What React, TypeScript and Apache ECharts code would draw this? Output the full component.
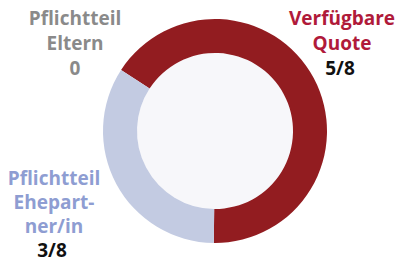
import React, { useEffect, useRef } from "react";
import * as echarts from "echarts";

const categories = ["Verfügbare Quote", "Pflichtteil Ehepartner/in", "Pflichtteil Eltern"];
const shares = [66, 34, 0];
const fractions = ["5/8", "3/8", "0"];
const sliceColors = ["#921c20", "#c3cbe2", "#8a8a8a"];

export default function App() {
  const ref = useRef<HTMLDivElement>(null);
  useEffect(() => {
    const chart = echarts.init(ref.current!, null, { renderer: "svg" });
    const font = "'Open Sans', 'Noto Sans', sans-serif";
    const txt = (x: number, y: number, text: string, fill: string) => ({
      type: "text",
      x,
      y,
      silent: true,
      style: {
        text,
        fill,
        fontFamily: font,
        fontWeight: "bold",
        fontSize: 19,
        textAlign: "center",
        textVerticalAlign: "middle",
      },
    });
    const gray = "#8a8a8a";
    const red = "#b01a3a";
    const blue = "#8e9dd2";
    const dark = "#111";
    chart.setOption({
      animation: false,
      series: [
        {
          type: "pie",
          silent: true,
          center: [215, 131],
          radius: [0, 78],
          label: { show: false },
          labelLine: { show: false },
          data: [{ value: 1, itemStyle: { color: "#f7f7fa" } }],
        },
        {
          type: "pie",
          silent: true,
          center: [215, 131],
          radius: [78, 112],
          startAngle: 147,
          clockwise: true,
          label: { show: false },
          labelLine: { show: false },
          data: categories.map((c, i) => ({ name: c, value: shares[i], itemStyle: { color: sliceColors[i] } })),
        },
      ],
      graphic: [
        txt(75, 18, "Pflichtteil", gray),
        txt(75, 43, "Eltern", gray),
        txt(75, 67.5, fractions[2], gray),
        txt(342, 18, "Verfügbare", red),
        txt(342, 43, "Quote", red),
        txt(340, 68, fractions[0], dark),
        txt(54, 178, "Pflichtteil", blue),
        txt(54, 202, "Ehepart-", blue),
        txt(54, 226, "ner/in", blue),
        txt(52, 250, fractions[1], dark),
      ],
    });
    return () => chart.dispose();
  }, []);
  return <div ref={ref} style={{ position: "absolute", left: 0, top: 0, width: 401, height: 262 }} />;
}
